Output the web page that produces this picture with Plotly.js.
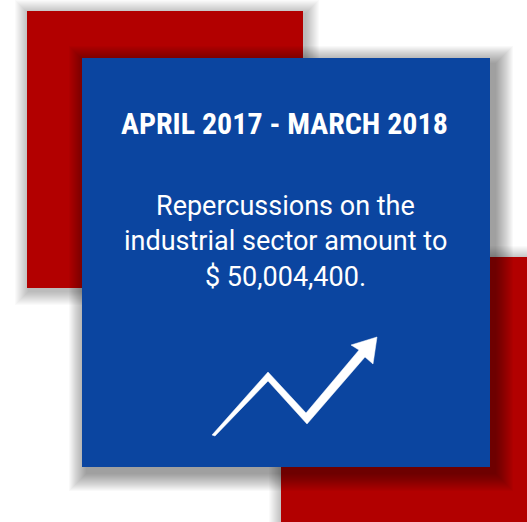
<!DOCTYPE html>
<html>
<head>
<meta charset="utf-8">
<script src="https://cdn.plot.ly/plotly-3.0.1.min.js"></script>
<style>html,body{margin:0;padding:0;background:#fff;}#chart{width:527px;height:522px;}</style>
</head>
<body>
<div id="chart"></div>
<script>
// Content
const periodLabel = "APRIL 2017 - MARCH 2018";
const messageLines = ["Repercussions on the", "industrial sector amount to", "$ 50,004,400."];
const amountValue = 50004400;

// Trend icon outline (rising zigzag arrow)
const trendX = [212, 268, 306, 359, 351, 377, 373, 365, 307, 268, 215];
const trendY = [435, 372, 413, 350, 345, 337, 364, 357, 424, 381, 436];

const W = 527, H = 522;
const RED = "#B20000", BLUE = "#0B45A0";

function rect(x0, y0, x1, y1, color) {
  return {type: "rect", xref: "x", yref: "y", x0, y0, x1, y1,
          fillcolor: color, line: {width: 0}, layer: "below"};
}
function shadow(x0, y0, x1, y1, dx, dy, n, a) {
  const s = [];
  for (let i = n; i >= 1; i--) {
    s.push({type: "rect", xref: "x", yref: "y",
      x0: x0 + dx - i, y0: y0 + dy - i, x1: x1 + dx + i, y1: y1 + dy + i,
      fillcolor: "rgba(0,0,0," + a + ")", line: {width: 0}, layer: "below"});
  }
  return s;
}

const shapes = [].concat(
  shadow(27, 11, 303, 288, 2, 3, 14, 0.018),
  shadow(281, 257, 540, 540, 2, 3, 14, 0.018),
  [rect(27, 11, 303, 288, RED), rect(281, 257, 540, 540, RED)],
  shadow(82, 58, 490, 467, 5, 6, 18, 0.022),
  [rect(82, 58, 490, 467, BLUE)]
);

const annotations = [
  {x: 284, y: 123, xref: "x", yref: "y", text: "<b>" + periodLabel + "</b>", showarrow: false,
   font: {family: "Roboto Condensed, Roboto, sans-serif", size: 30, weight: 700, color: "#ffffff"},
   xanchor: "center", yanchor: "middle"}
];
messageLines.forEach((t, i) => {
  annotations.push({x: 285.5, y: 206 + i * 35.3, xref: "x", yref: "y", text: t, showarrow: false,
    font: {family: "Roboto, sans-serif", size: 27, color: "#ffffff"}, xanchor: "center", yanchor: "middle"});
});

const trace = {x: trendX.concat([trendX[0]]), y: trendY.concat([trendY[0]]),
  mode: "lines", fill: "toself", fillcolor: "#ffffff",
  line: {color: "#ffffff", width: 0.5}, hoverinfo: "skip", showlegend: false};

Plotly.newPlot("chart", [trace], {
  width: W, height: H,
  margin: {l: 0, r: 0, t: 0, b: 0},
  paper_bgcolor: "#ffffff", plot_bgcolor: "rgba(0,0,0,0)",
  xaxis: {range: [0, W], visible: false, fixedrange: true},
  yaxis: {range: [H, 0], visible: false, fixedrange: true},
  shapes, annotations, showlegend: false
}, {displayModeBar: false, staticPlot: true});
</script>
</body>
</html>
